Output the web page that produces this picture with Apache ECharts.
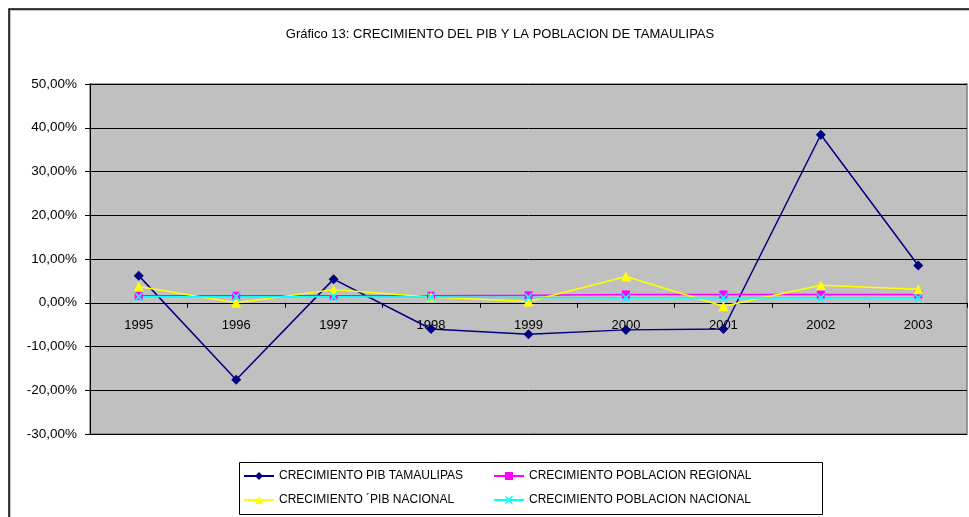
<!DOCTYPE html>
<html>
<head>
<meta charset="utf-8">
<script src="https://cdn.jsdelivr.net/npm/echarts@6/dist/echarts.min.js"></script>
<style>
  html, body { margin: 0; padding: 0; background: #fff; }
  #chart { width: 969px; height: 517px; }
</style>
</head>
<body>
<div id="chart"></div>
<script>
// values, in percent
const years = ['1995', '1996', '1997', '1998', '1999', '2000', '2001', '2002', '2003']
const pibTamaulipas = [6.2, -17.6, 5.4, -6.0, -7.2, -6.2, -6.0, 38.4, 8.5]
const poblacionRegional = [1.6, 1.6, 1.6, 1.6, 1.7, 1.9, 1.9, 1.9, 1.9]
const pibNacional = [3.7, 0.0, 3.0, 1.3, 0.3, 6.0, -0.8, 4.0, 3.1]
const poblacionNacional = [1.4, 1.4, 1.4, 1.3, 1.2, 1.1, 1.1, 1.1, 1.1]

const font = 'Liberation Sans, Arial, sans-serif'
const crossPath = 'path://M0,0 L1.6,0 L5,3.4 L8.4,0 L10,0 L6.6,5 L10,10 L8.4,10 L5,6.6 L1.6,10 L0,10 L3.4,5 Z'

const chart = echarts.init(document.getElementById('chart'))

const lineSeries = (name, data, color, symbol, size) => ({
  name: name,
  type: 'line',
  data: data,
  symbol: symbol,
  symbolSize: size,
  showAllSymbol: true,
  animation: false,
  lineStyle: { color: color, width: 1.5 },
  itemStyle: { color: color, borderWidth: 0 },
  emphasis: { disabled: true }
})

const legendBase = {
  orient: 'vertical',
  itemWidth: 30,
  itemHeight: 10,
  itemGap: 12,
  textStyle: { fontFamily: font, fontSize: 12, color: '#000' },
  selectedMode: false
}

chart.setOption({
  backgroundColor: '#fff',
  title: {
    text: 'Gráfico 13: CRECIMIENTO DEL PIB Y LA POBLACION DE TAMAULIPAS',
    left: 495,
    textAlign: 'center',
    top: 23,
    textStyle: { fontFamily: font, fontSize: 13, fontWeight: 'normal', color: '#000' }
  },
  graphic: [
    { type: 'rect', shape: { x: 10, y: 10, width: 1000, height: 600 }, style: { fill: 'none', stroke: '#888', lineWidth: 1 }, z: -1 },
    { type: 'rect', shape: { x: 9, y: 9, width: 1000, height: 600 }, style: { fill: 'none', stroke: '#000', lineWidth: 1.5 }, z: -1 },
    { type: 'rect', shape: { x: 239.5, y: 462.5, width: 583, height: 52 }, style: { fill: '#fff', stroke: '#000', lineWidth: 1 }, z: 0 }
  ],
  legend: [
    Object.assign({}, legendBase, { left: 238, top: 465, data: ['CRECIMIENTO PIB TAMAULIPAS', 'CRECIMIENTO ´PIB NACIONAL'] }),
    Object.assign({}, legendBase, { left: 488, top: 465, data: ['CRECIMIENTO POBLACION REGIONAL', 'CRECIMIENTO POBLACION NACIONAL'] })
  ],
  grid: {
    left: 90, right: 2, top: 84, bottom: 83,
    show: true,
    backgroundColor: '#c0c0c0',
    borderColor: '#808080',
    borderWidth: 1.5
  },
  xAxis: {
    type: 'category',
    data: years,
    boundaryGap: true,
    position: 'bottom',
    offset: -131.25,
    axisLine: { onZero: false, lineStyle: { color: '#000', width: 1 } },
    axisTick: { show: true, length: 5, inside: false, lineStyle: { color: '#000' } },
    axisLabel: { fontFamily: font, fontSize: 13, color: '#000', margin: 16 },
    splitLine: { show: false }
  },
  yAxis: {
    type: 'value',
    min: -30,
    max: 50,
    interval: 10,
    axisLine: { show: true, lineStyle: { color: '#000', width: 1 } },
    axisTick: { show: true, length: 5, lineStyle: { color: '#000' } },
    axisLabel: {
      fontFamily: font, fontSize: 13.5, color: '#000', margin: 13,
      formatter: v => v.toFixed(2).replace('.', ',') + '%'
    },
    splitLine: { show: true, lineStyle: { color: '#000', width: 1 } }
  },
  series: [
    lineSeries('CRECIMIENTO PIB TAMAULIPAS', pibTamaulipas, '#000080', 'diamond', 10),
    lineSeries('CRECIMIENTO POBLACION REGIONAL', poblacionRegional, '#ff00ff', 'rect', 8),
    lineSeries('CRECIMIENTO ´PIB NACIONAL', pibNacional, '#ffff00', 'triangle', 10),
    lineSeries('CRECIMIENTO POBLACION NACIONAL', poblacionNacional, '#00ffff', crossPath, 9)
  ]
})
</script>
</body>
</html>
